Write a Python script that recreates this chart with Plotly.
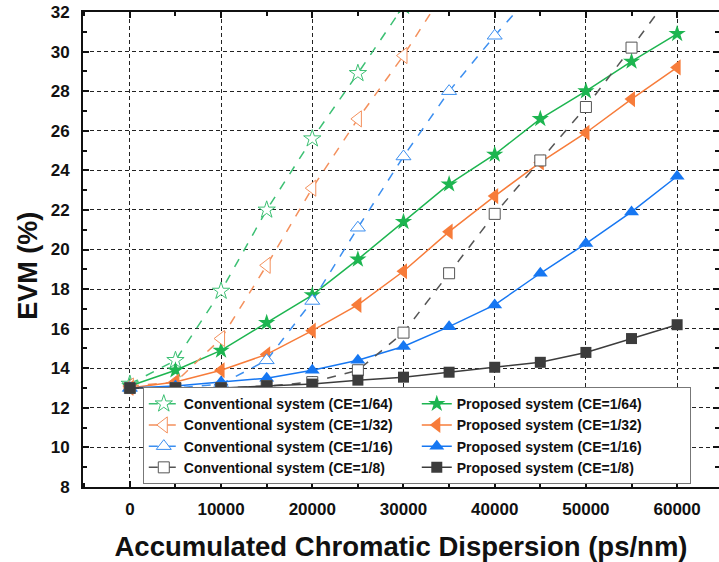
import plotly.graph_objects as go

cd = [0, 5000, 10000, 15000, 20000, 25000, 30000, 35000, 40000, 45000, 50000, 55000, 60000]

conv_64 = [13.2, 14.4, 17.9, 22.0, 25.6, 28.9, 32.3, 35.8]
conv_32 = [13.1, 13.3, 15.5, 19.2, 23.1, 26.6, 29.8, 33.4]
conv_16 = [13.0, 13.0, 13.2, 14.4, 17.4, 21.1, 24.7, 28.0, 30.8, 33.4]
conv_8 = [13.0, 13.0, 13.0, 13.1, 13.3, 13.9, 15.8, 18.8, 21.8, 24.5, 27.2, 30.2, 33.3]

prop_64 = [13.1, 13.9, 14.9, 16.3, 17.7, 19.5, 21.4, 23.3, 24.8, 26.6, 28.0, 29.5, 30.9]
prop_32 = [13.0, 13.3, 13.9, 14.7, 15.9, 17.2, 18.9, 20.9, 22.7, 24.4, 25.9, 27.6, 29.2]
prop_16 = [13.0, 13.1, 13.3, 13.5, 13.9, 14.4, 15.1, 16.1, 17.2, 18.8, 20.3, 21.9, 23.7]
prop_8 = [13.0, 13.0, 13.0, 13.1, 13.2, 13.4, 13.55, 13.8, 14.05, 14.3, 14.8, 15.5, 16.2]

names_conv = ["Conventional system (CE=1/64)", "Conventional system (CE=1/32)",
              "Conventional system (CE=1/16)", "Conventional system (CE=1/8)"]
names_prop = ["Proposed system (CE=1/64)", "Proposed system (CE=1/32)",
              "Proposed system (CE=1/16)", "Proposed system (CE=1/8)"]

x_ticks = [0, 10000, 20000, 30000, 40000, 50000, 60000]
y_ticks = [8, 10, 12, 14, 16, 18, 20, 22, 24, 26, 28, 30, 32]

conv_colors = ["#3cc073", "#f4905c", "#3c8ff0", "#555555"]
prop_colors = ["#1db550", "#f77c3a", "#1677f2", "#3c3c3c"]
conv_symbols = ["star", "triangle-left", "triangle-up", "square"]
prop_symbols = ["star", "triangle-left", "triangle-up", "square"]
sizes = [13, 14, 13, 11]

conv_data = [conv_64, conv_32, conv_16, conv_8]
prop_data = [prop_64, prop_32, prop_16, prop_8]

fig = go.Figure()
for i in range(4):
    fig.add_trace(go.Scatter(
        x=cd[:len(conv_data[i])], y=conv_data[i], name=names_conv[i], mode="lines+markers",
        line=dict(color=conv_colors[i], width=1.5, dash="dash"),
        marker=dict(symbol=conv_symbols[i], size=sizes[i], color="white",
                    line=dict(color=conv_colors[i], width=1)),
    ))
    fig.add_trace(go.Scatter(
        x=cd[:len(prop_data[i])], y=prop_data[i], name=names_prop[i], mode="lines+markers",
        line=dict(color=prop_colors[i], width=1.5),
        marker=dict(symbol=prop_symbols[i], size=sizes[i], color=prop_colors[i]),
    ))

axis_font = dict(family="Liberation Sans, Arial", size=17, color="#111111")
fig.update_layout(
    width=721, height=562,
    margin=dict(l=83, r=0, t=12, b=75),
    paper_bgcolor="white", plot_bgcolor="white",
    showlegend=True,
    legend=dict(
        orientation="h", x=0.094, xanchor="left", y=0.006, yanchor="bottom",
        entrywidth=228, entrywidthmode="pixels",
        bgcolor="white", bordercolor="#777777", borderwidth=1,
        font=dict(family="Liberation Sans, Arial", size=14, color="#111111", weight="bold"),
        tracegroupgap=0, itemwidth=30,
    ),
    xaxis=dict(
        range=[-5137, 64590], tickvals=x_ticks, ticktext=[f"<b>{v}</b>" for v in x_ticks],
        showline=True, linecolor="#111111", linewidth=2, mirror="ticks",
        ticks="inside", ticklen=6, tickcolor="#111111", tickwidth=1.5,
        minor=dict(dtick=5000, tick0=0, ticks="inside", ticklen=4, tickcolor="#111111", showgrid=False),
        showgrid=True, gridcolor="#222222", gridwidth=1, griddash="4px,3px",
        zeroline=False, tickfont=axis_font, ticklabelstandoff=6,
        title=dict(text="<b>Accumulated Chromatic Dispersion (ps/nm)</b>",
                   font=dict(family="Liberation Sans, Arial", size=27.5, color="#111111"), standoff=18),
    ),
    yaxis=dict(
        range=[8, 32], tickvals=y_ticks, ticktext=[f"<b>{v}</b>" for v in y_ticks],
        showline=True, linecolor="#111111", linewidth=2, mirror="ticks",
        ticks="inside", ticklen=6, tickcolor="#111111", tickwidth=1.5,
        minor=dict(dtick=1, tick0=8, ticks="inside", ticklen=4, tickcolor="#111111", showgrid=False),
        showgrid=True, gridcolor="#222222", gridwidth=1, griddash="4px,3px",
        zeroline=False, tickfont=axis_font, ticklabelstandoff=8,
    ),
    annotations=[dict(
        text="<b>EVM (%)</b>", textangle=-90, xref="paper", yref="paper",
        x=-0.087, y=0.465, xanchor="center", yanchor="middle", showarrow=False,
        font=dict(family="Liberation Sans, Arial", size=27, color="#111111"),
    )],
)

fig.write_html(
    "out.html",
    config=dict(displayModeBar=False),
    post_script="document.body.style.margin='0';document.body.style.overflow='hidden';",
)
